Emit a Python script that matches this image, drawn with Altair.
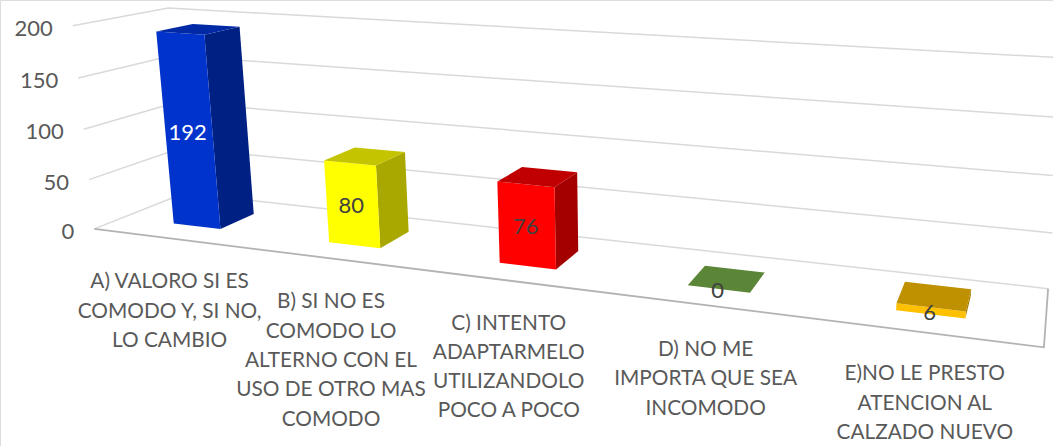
import altair as alt
import numpy as np
import pandas as pd

CATEGORY_LINES = [
    ["A) VALORO SI ES", "COMODO Y, SI NO,", "LO CAMBIO"],
    ["B) SI NO ES", "COMODO LO", "ALTERNO CON EL", "USO DE OTRO MAS", "COMODO"],
    ["C) INTENTO", "ADAPTARMELO", "UTILIZANDOLO", "POCO A POCO"],
    ["D) NO ME", "IMPORTA QUE SEA", "INCOMODO"],
    ["E)NO LE PRESTO", "ATENCION AL", "CALZADO NUEVO"],
]
VALUES = [192, 80, 76, 0, 6]
TICKS = [0, 50, 100, 150, 200]
FRONT_COLORS = ["#0033CC", "#FFFF00", "#FF0000", "#70AD47", "#FFC000"]
SIDE_COLORS = ["#002183", "#A8A800", "#A50000", "#4A7A2C", "#A67C00"]
TOP_COLORS = ["#0029A6", "#C4C400", "#C00000", "#5B8537", "#BF9000"]
LABEL_COLORS = ["#FFFFFF", "#404040", "#404040", "#404040", "#404040"]
CATEGORY_DROP = [44, 44, 43, 45, 42]

FONT = "Lato"
W, H = 1053, 446
VMAX = 200.0
BAR_HALF = 0.031
BAR_FRONT, BAR_BACK = 0.30, 0.70

# Perspective camera for the 3D box: box coordinates (u along categories,
# w front to back, v up) map to the canvas through a 3x4 projective matrix,
# calibrated from where the corners of the box sit on the canvas.
box_corners = [
    ((0, 0, 0), (94, 229)), ((1, 0, 0), (1044, 347)),
    ((0, 1, 0), (185, 193)), ((1, 1, 0), (1048, 289)),
    ((0, 0, 1), (73, 26)), ((0, 1, 1), (168, 8)),
    ((1, 1, 1), (1066, 58)),
]
rows, rhs = [], []
for (u, w, v), (px, py) in box_corners:
    rows.append([u, w, v, 1, 0, 0, 0, 0, -px * u, -px * w, -px * v])
    rows.append([0, 0, 0, 0, u, w, v, 1, -py * u, -py * w, -py * v])
    rhs += [px, py]
sol = np.linalg.lstsq(np.array(rows, float), np.array(rhs, float), rcond=None)[0]
P = np.append(sol, 1.0).reshape(3, 4)


def project(u, w, value):
    q = P @ np.array([u, w, value / VMAX, 1.0])
    return q[0] / q[2], q[1] / q[2]


def center(i):
    return (i + 0.5) / len(VALUES)


# Walls and floor outline
frame = []


def add_path(table, name, pts, **extra):
    for k, p in enumerate(pts):
        x, y = project(*p)
        table.append({"path": name, "ord": k, "x": x, "y": y, **extra})


for t in TICKS:
    add_path(frame, f"grid{t}", [(0, 0, t), (0, 1, t), (1, 1, t)])
outline = []
add_path(outline, "floor", [(0, 0, 0), (1, 0, 0), (1, 1, 0)])

# Bar faces, painted back to front for each bar
faces = []
for i, val in enumerate(VALUES):
    a, b = center(i) - BAR_HALF, center(i) + BAR_HALF
    f, k = BAR_FRONT, BAR_BACK
    if val > 0:
        add_path(faces, f"{i}side", [(b, f, 0), (b, k, 0), (b, k, val), (b, f, val)], fillc=SIDE_COLORS[i])
        add_path(faces, f"{i}front", [(a, f, 0), (b, f, 0), (b, f, val), (a, f, val)], fillc=FRONT_COLORS[i])
    add_path(faces, f"{i}top", [(a, f, val), (b, f, val), (b, k, val), (a, k, val)], fillc=TOP_COLORS[i])

tick_rows = []
for t in TICKS:
    x, y = project(0, 0, t)
    tick_rows.append({"label": str(t), "x": x - 20, "y": y + 3})

value_rows = []
for i, val in enumerate(VALUES):
    x, y = project(center(i), BAR_FRONT, val / 2)
    value_rows.append({"label": str(val), "x": x - 1, "y": y + 2, "c": LABEL_COLORS[i]})

cat_rows = []
for i, lines in enumerate(CATEGORY_LINES):
    x, y = project(center(i), 0, 0)
    for n, line in enumerate(lines):
        cat_rows.append({"label": line, "x": x, "y": y + CATEGORY_DROP[i] + n * 29.3})

X = alt.X("x:Q", scale=alt.Scale(domain=[0, W], range=[0, W]), axis=None)
Y = alt.Y("y:Q", scale=alt.Scale(domain=[0, H], range=[0, H]), axis=None)

grid = alt.Chart(pd.DataFrame(frame)).mark_line(color="#D9D9D9", strokeWidth=1.5).encode(
    X, Y, detail="path:N", order="ord:Q")
floor = alt.Chart(pd.DataFrame(outline)).mark_line(color="#B3B3B3", strokeWidth=1.8).encode(
    X, Y, detail="path:N", order="ord:Q")
bars = alt.Chart(pd.DataFrame(faces)).mark_line(interpolate="linear-closed", strokeWidth=0).encode(
    X, Y, detail=alt.Detail("path:N"), order="ord:Q", fill=alt.Fill("fillc:N", scale=None))
ticks = alt.Chart(pd.DataFrame(tick_rows)).mark_text(
    font=FONT, fontSize=22, color="#595959", align="right", baseline="middle").encode(X, Y, text="label:N")
values = alt.Chart(pd.DataFrame(value_rows)).mark_text(
    font=FONT, fontSize=22, align="center", baseline="middle").encode(
    X, Y, text="label:N", color=alt.Color("c:N", scale=None))
cats = alt.Chart(pd.DataFrame(cat_rows)).mark_text(
    font=FONT, fontSize=20.8, color="#595959", align="center", baseline="middle").encode(X, Y, text="label:N")

chart = alt.layer(grid, floor, bars, ticks, values, cats).properties(
    width=W, height=H, padding=0, autosize=alt.AutoSizeParams(type="none")
).configure_view(stroke=None).configure(background="#FFFFFF")

chart.save("out.html", embed_options={"renderer": "svg", "actions": False})
